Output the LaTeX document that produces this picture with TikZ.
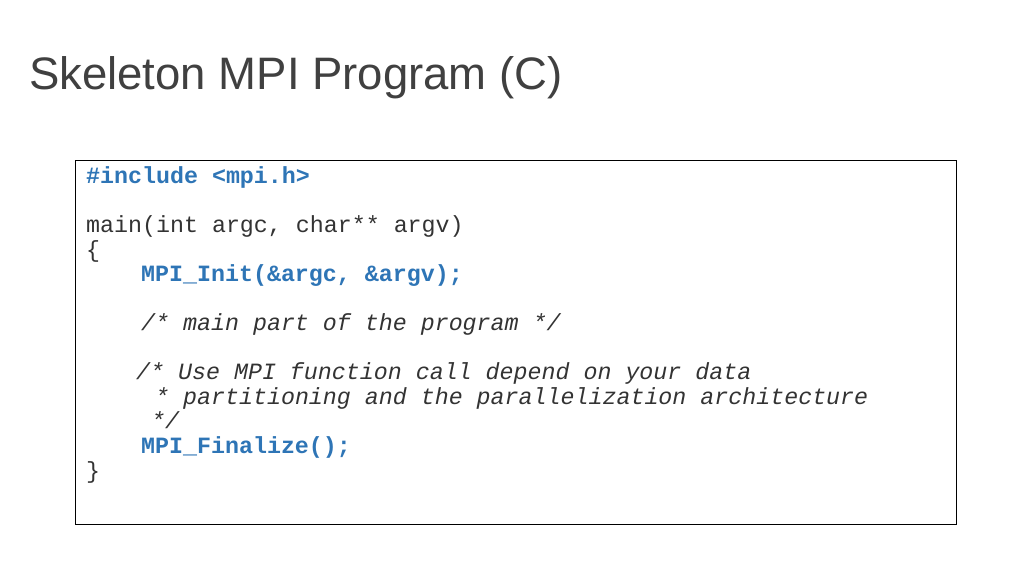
\documentclass[tikz,border=0pt]{standalone}
\usepackage{fontspec}
\setmainfont{Liberation Sans}
\setmonofont{Liberation Mono}
\definecolor{codeblue}{HTML}{2E75B6}
\definecolor{titlegray}{HTML}{404040}
\definecolor{codegray}{HTML}{333333}
\begin{document}
\begin{tikzpicture}[x=1pt,y=-1pt,
  code/.style={anchor=base west,inner sep=0pt,font=\ttfamily\fontsize{23.3}{24}\selectfont,text=codegray},
  kw/.style={code,text=codeblue,font=\ttfamily\bfseries\fontsize{23.3}{24}\selectfont},
  cmt/.style={code,font=\ttfamily\itshape\fontsize{23.3}{24}\selectfont}]
\useasboundingbox (0,0) rectangle (1024,576);
\fill[white] (0,0) rectangle (1024,576);
\node[anchor=base west,inner sep=0pt,text=titlegray,font=\fontsize{45.5}{50}\selectfont] (title) at (29,89) {Skeleton MPI Program (C)};
\draw[black,line width=0.8pt] (75,160) rectangle (956,524);
\node[kw] (l1) at (86,183) {\#include <mpi.h>};
\node[code] (l2) at (86,232) {main(int argc, char** argv)};
\node[code] (l3) at (86,257) {\{};
\node[kw] (l4) at (141,281) {MPI\_Init(\&argc, \&argv);};
\node[cmt] (l5) at (141,330) {/* main part of the program */};
\node[cmt] (l6) at (136,379) {/* Use MPI function call depend on your data};
\node[cmt] (l7) at (155,404) {* partitioning and the parallelization architecture};
\node[cmt] (l8) at (151,428) {*/};
\node[kw] (l9) at (141,453) {MPI\_Finalize();};
\node[code] (l10) at (86,478) {\}};
\end{tikzpicture}
\end{document}
